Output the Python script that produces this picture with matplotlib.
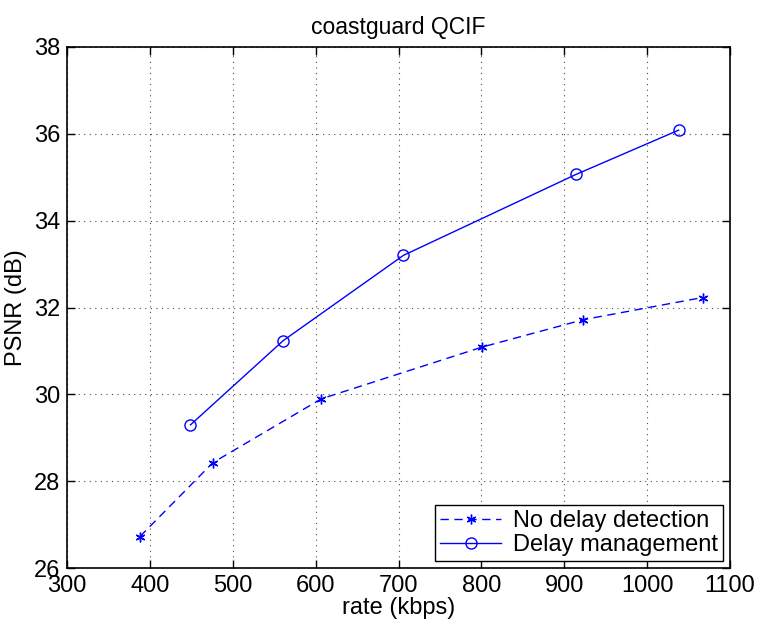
import matplotlib
matplotlib.use("Agg")
import matplotlib.pyplot as plt

plt.rcParams['font.family'] = ['Liberation Sans', 'DejaVu Sans']

# Data
rate_nodelay = [388, 476, 607, 801, 923, 1067]
psnr_nodelay = [26.73, 28.43, 29.90, 31.09, 31.72, 32.23]
rate_delay = [449, 561, 706, 914, 1038]
psnr_delay = [29.30, 31.24, 33.20, 35.06, 36.08]

title = "coastguard QCIF"
xlabel = "rate (kbps)"
ylabel = "PSNR (dB)"
labels = ["No delay detection", "Delay management"]
xticks = [300, 400, 500, 600, 700, 800, 900, 1000, 1100]
yticks = [26, 28, 30, 32, 34, 36, 38]

fig = plt.figure(figsize=(7.61, 6.29), dpi=100)
ax = fig.add_axes([67/761, 1-568.3/629, (730-67)/761, (568.3-46.7)/629])

blue = (0, 0, 1)
ax.plot(rate_nodelay, psnr_nodelay, linestyle=(0, (6, 4)), color=blue, lw=1.0,
        marker=(6, 2, 0), markersize=7, markeredgewidth=1.0, label=labels[0])
ax.plot(rate_delay, psnr_delay, linestyle='-', color=blue, lw=1.0,
        marker='o', markersize=8, markerfacecolor='none', markeredgewidth=1.0,
        label=labels[1])

ax.set_xlim(300, 1100)
ax.set_ylim(26, 38)
ax.set_xticks(xticks)
ax.set_yticks(yticks)
ax.tick_params(direction='in', length=6, width=1, labelsize=17, top=True, right=True,
               labeltop=False, labelright=False, pad=5)
ax.grid(True, linestyle=(0, (1, 4)), color='black', lw=0.8, alpha=0.7)
for s in ax.spines.values():
    s.set_linewidth(1.2)

ax.set_title(title, fontsize=16.5, pad=9)
ax.set_xlabel(xlabel, fontsize=17, labelpad=0)
ax.set_ylabel(ylabel, fontsize=17, labelpad=5)

leg = ax.legend(loc='lower right', fontsize=17, frameon=True, fancybox=False,
                edgecolor='black', borderpad=0.2, labelspacing=0.1,
                handlelength=2.6, handletextpad=0.5, borderaxespad=0.3,
                framealpha=1)
leg.get_frame().set_linewidth(1.0)

fig.savefig("out.png", dpi=100)
